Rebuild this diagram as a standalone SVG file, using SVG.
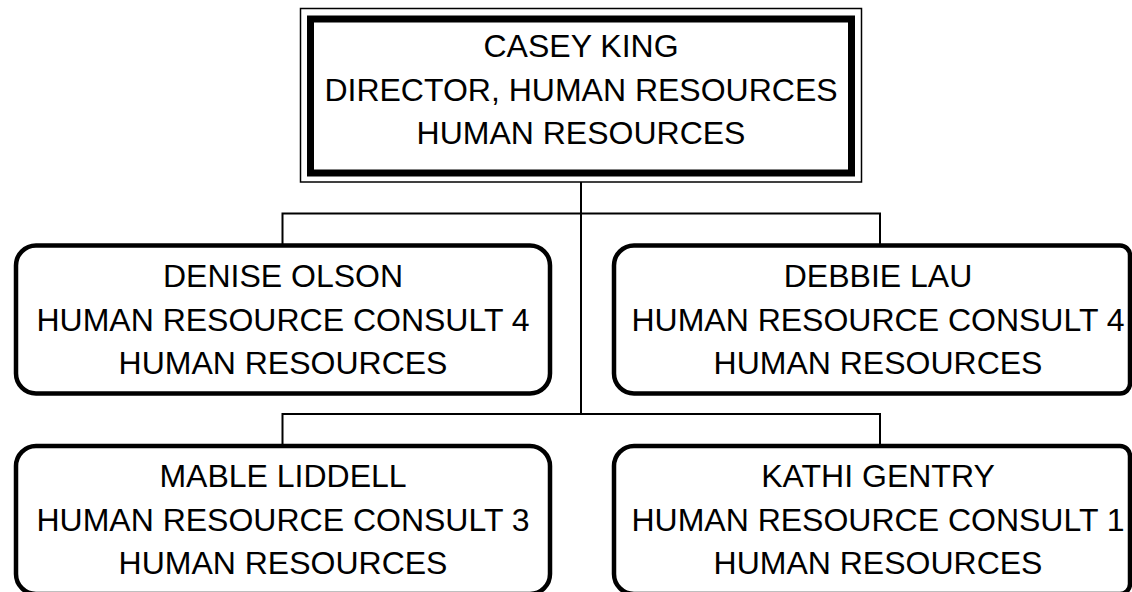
<svg xmlns="http://www.w3.org/2000/svg" width="1132" height="592" viewBox="0 0 1132 592">
<style>
.t{font-family:"Liberation Sans",Arial,sans-serif;font-size:32px;fill:#000;text-anchor:middle}
.box{fill:#fff;stroke:#000;stroke-width:4.5}
.conn{fill:none;stroke:#000;stroke-width:2}
</style>
<rect width="1132" height="592" fill="#fff"/>
<g id="connectors" class="conn">
<path d="M581 182V414"/>
<path d="M282.5 245.5V213.5H880V245.5"/>
<path d="M282.5 446V414H880V446"/>
</g>
<g id="casey">
<rect x="300.5" y="8.5" width="561" height="173.5" fill="#fff" stroke="#000" stroke-width="1.5"/>
<rect x="310.5" y="19" width="541" height="154" fill="#fff" stroke="#000" stroke-width="7"/>
<text class="t" x="581" y="57">CASEY KING</text>
<text class="t" x="581" y="100.5">DIRECTOR, HUMAN RESOURCES</text>
<text class="t" x="581" y="144">HUMAN RESOURCES</text>
</g>
<g id="denise">
<rect class="box" x="16" y="245.5" width="534" height="148" rx="20"/>
<text class="t" x="283" y="287">DENISE OLSON</text>
<text class="t" x="283" y="330.5">HUMAN RESOURCE CONSULT 4</text>
<text class="t" x="283" y="374">HUMAN RESOURCES</text>
</g>
<g id="debbie">
<path class="box" d="M634 245.5H1120A10 10 0 0 1 1130 255.5V383.5A10 10 0 0 1 1120 393.5H634A20 20 0 0 1 614 373.5V265.5A20 20 0 0 1 634 245.5Z"/>
<text class="t" x="878" y="287">DEBBIE LAU</text>
<text class="t" x="878" y="330.5">HUMAN RESOURCE CONSULT 4</text>
<text class="t" x="878" y="374">HUMAN RESOURCES</text>
</g>
<g id="mable">
<rect class="box" x="16" y="446" width="534" height="148" rx="20"/>
<text class="t" x="283" y="487">MABLE LIDDELL</text>
<text class="t" x="283" y="530.5">HUMAN RESOURCE CONSULT 3</text>
<text class="t" x="283" y="574">HUMAN RESOURCES</text>
</g>
<g id="kathi">
<path class="box" d="M634 446H1120A10 10 0 0 1 1130 456V584A10 10 0 0 1 1120 594H634A20 20 0 0 1 614 574V466A20 20 0 0 1 634 446Z"/>
<text class="t" x="878" y="487">KATHI GENTRY</text>
<text class="t" x="878" y="530.5">HUMAN RESOURCE CONSULT 1</text>
<text class="t" x="878" y="574">HUMAN RESOURCES</text>
</g>
</svg>
